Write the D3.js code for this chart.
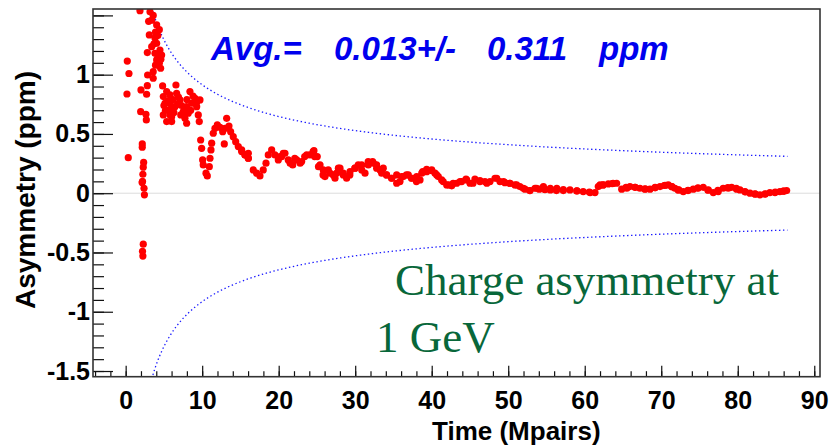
<!DOCTYPE html>
<html>
<head>
<meta charset="utf-8">
<script src="https://cdn.jsdelivr.net/npm/d3@7"></script>
<style>
  body { margin: 0; background: #fff; }
  svg { display: block; }
</style>
</head>
<body>
<div id="chart"></div>
<script>
/**
 * DATA
 * */
// running asymmetry vs accumulated statistics
const timeMpairs = [
  0.21, 0.43, 0.17, 0.34, 1.87,
  2.0, 2.83, 2.74, 1.96, 2.65, 2.7, 2.17, 2.17, 2.35, 2.3, 2.25, 2.2, 2.15, 2.4, 2.45, 2.3, 2.2, 2.25,
  3.18, 3.6, 3.4, 4.05, 4.4, 3.09, 3.83, 4.05, 3.4, 4.48, 2.83, 3.83, 4.7, 4.05, 4.4, 4.57, 3.6, 3.6, 2.87,
  3.0, 3.9, 4.2, 3.7, 4.3, 3.9, 4.6,
  4.83, 6.57, 5.36, 4.92, 5.79, 6.66, 7.1, 5.14, 5.79, 6.44, 5.57, 4.92, 6.01, 5.36, 6.01,
  9.06, 9.71, 8.63, 7.97, 9.28, 7.53, 8.18, 7.75, 7.97, 9.49, 9.62, 8.4,
  5.5, 6.2, 6.9, 5.2, 6.3, 5.8, 7.3, 8.0, 8.8, 9.3, 8.5, 7.7, 6.8, 6.0, 5.0, 7.2,
  9.8, 9.93, 10.06, 10.14, 10.5, 10.67, 10.93, 11.02, 11.15, 11.24, 11.45, 11.67, 11.98, 12.33, 12.68,
  12.98, 13.2, 13.5, 13.72, 12.89, 14.06, 14.38, 14.72, 15.16, 15.6, 16.03,
  15.16, 15.6, 16.03, 16.03, 16.68, 17.12, 17.55, 17.98, 18.34, 18.64, 19.08, 19.51, 19.95, 20.39,
  20.82, 21.25, 21.83, 22.35, 23.0, 23.66, 24.09, 24.61, 25.04, 25.4, 25.83, 26.05, 26.48, 27.13,
  27.58, 28.01, 28.44, 28.88, 29.32, 29.97, 30.4, 30.85, 31.28, 31.71, 32.28, 32.8, 33.24, 33.67,
  34.1, 34.77, 35.42, 35.85, 36.28, 36.94, 37.38, 38.03, 38.47, 38.82, 39.34, 40.0, 40.65, 41.3,
  41.96, 42.61, 43.26, 43.92, 44.48, 45.0, 45.65, 46.31, 46.96, 47.62, 48.27, 48.92, 49.57, 50.23,
  50.88, 51.53, 52.19, 52.84, 53.5, 54.06, 54.8, 55.5, 56.3, 57.2, 58.07, 59.0, 59.8, 60.6, 61.34,
  61.77, 62.4, 63.08, 63.6, 64.17, 64.83, 65.4, 65.91, 66.6, 67.22, 67.9, 68.53, 69.2, 69.84,
  70.4, 70.92, 71.4, 71.79, 72.3, 72.88, 73.5, 74.19, 74.8, 75.49, 76.1, 76.8, 77.4, 78.1, 78.7,
  79.2, 79.8, 80.29, 81.0, 81.6, 82.3, 82.9, 83.6, 84.2, 84.9, 85.5, 86.0, 86.39,
  // second pass along the band
  20.2, 20.6, 21.5, 22.1, 22.8, 23.4, 24.5, 24.7, 25.2, 25.8, 26.7, 27.36, 27.8, 28.44, 29.3, 29.97,
  30.85, 31.7, 32.36, 32.8, 33.46, 34.1, 34.77, 35.42, 36.07, 36.7, 37.38, 38.0, 38.7, 39.34, 40.0,
  40.43, 40.86, 41.5, 42.2, 42.8, 43.7, 44.57, 45.4, 46.3, 47.2, 48.5, 49.4, 50.2, 51.1, 51.97,
  52.84, 53.7, 54.6, 55.5, 56.35,
  56.3, 57.2, 58.95, 60.7, 62.0, 62.4, 63.7, 65.5, 66.57, 67.87, 69.2, 70.5, 71.36, 72.2, 73.5,
  74.8, 76.15, 77.45, 78.76, 79.86, 80.94, 82.25, 83.56, 84.87, 85.95
];
const asymPpm = [
  1.115, 1.01, 0.837, 0.30, 1.54,
  0.871, 0.907, 0.835, 0.688, 0.666, 0.618, 0.416, 0.388, 0.26, 0.22, 0.16, 0.10, 0.09, 0.042, -0.014, -0.43, -0.49, -0.53,
  1.53, 1.50, 1.46, 1.42, 1.38, 1.335, 1.31, 1.265, 1.236, 1.208, 1.186, 1.18, 1.166, 1.124, 1.096, 1.054, 1.025, 0.97, 0.997,
  1.45, 1.36, 1.33, 1.26, 1.16, 1.08, 1.13,
  0.905, 0.913, 0.857, 0.815, 0.829, 0.843, 0.787, 0.759, 0.759, 0.73, 0.702, 0.66, 0.646, 0.604, 0.604,
  0.80, 0.787, 0.759, 0.73, 0.73, 0.688, 0.675, 0.632, 0.59, 0.66, 0.604, 0.857,
  0.78, 0.79, 0.81, 0.70, 0.68, 0.66, 0.74, 0.79, 0.82, 0.77, 0.70, 0.71, 0.75, 0.72, 0.74, 0.66,
  0.449, 0.379, 0.281, 0.239, 0.169, 0.146, 0.224, 0.295, 0.365, 0.422, 0.506, 0.548, 0.576, 0.556, 0.519,
  0.548, 0.632, 0.567, 0.519, 0.416, 0.477, 0.435, 0.393, 0.351, 0.323, 0.295,
  0.365, 0.323, 0.337, 0.295, 0.196, 0.169, 0.146, 0.196, 0.253, 0.323, 0.365, 0.323, 0.281, 0.309,
  0.337, 0.281, 0.239, 0.281, 0.267, 0.323, 0.323, 0.359, 0.309, 0.239, 0.196, 0.14, 0.196, 0.154,
  0.169, 0.211, 0.154, 0.126, 0.182, 0.211, 0.239, 0.196, 0.169, 0.239, 0.267, 0.239, 0.196, 0.211,
  0.154, 0.126, 0.154, 0.098, 0.14, 0.154, 0.126, 0.14, 0.112, 0.182, 0.202, 0.191, 0.154, 0.112,
  0.07, 0.062, 0.084, 0.098, 0.118, 0.084, 0.118, 0.106, 0.098, 0.098, 0.126, 0.098, 0.089, 0.084,
  0.07, 0.056, 0.034, 0.022, 0.042, 0.034, 0.03, 0.028, 0.03, 0.03, 0.028, 0.02, 0.014, 0.01, 0.005,
  0.056, 0.07, 0.078, 0.08, 0.084, 0.034, 0.05, 0.056, 0.05, 0.042, 0.036, 0.034, 0.045, 0.056,
  0.065, 0.07, 0.055, 0.042, 0.028, 0.014, 0.025, 0.034, 0.045, 0.05, 0.025, 0.005, 0.025, 0.042, 0.048,
  0.05, 0.04, 0.028, 0.01, 0.0, -0.008, -0.014, -0.005, 0.005, 0.01, 0.014, 0.018, 0.022,
  // second pass along the band
  0.309, 0.337, 0.253, 0.295, 0.253, 0.309, 0.351, 0.309, 0.224, 0.154, 0.169, 0.126, 0.211, 0.169, 0.154, 0.211,
  0.239, 0.267, 0.253, 0.211, 0.169, 0.154, 0.126, 0.084, 0.14, 0.154, 0.126, 0.098, 0.169, 0.182, 0.196,
  0.169, 0.14, 0.098, 0.07, 0.084, 0.098, 0.112, 0.084, 0.098, 0.084, 0.126, 0.098, 0.084, 0.07, 0.042,
  0.022, 0.042, 0.056, 0.042, 0.042,
  0.022, 0.022, 0.019, 0.005, 0.07, 0.07, 0.084, 0.042, 0.05, 0.034, 0.05, 0.067, 0.056, 0.028, 0.022,
  0.042, 0.028, 0.014, 0.042, 0.034, 0.014, -0.006, -0.008, 0.005, 0.017
];

const avgValue = 0.013, avgError = 0.311, lastTime = 86.5;

const xTickValues = [0, 10, 20, 30, 40, 50, 60, 70, 80, 90];
const yTickValues = [-1.5, -1, -0.5, 0, 0.5, 1, 1.5];
const yTickLabels = ["-1.5", "-1", "-0.5", "0", "0.5", "1", ""];

/**
 * CONSTANTS
 * */
const width = 831, height = 447;
const frame = { left: 93, top: 9, right: 820, bottom: 376.7 };
const axisFont = "'Liberation Sans', Arial, Helvetica, sans-serif";

const svg = d3.select("#chart").append("svg")
  .attr("width", width)
  .attr("height", height);

const x = d3.scaleLinear().domain([-4.27, 90.75]).range([frame.left, frame.right]);
const y = d3.scaleLinear().domain([-1.548, 1.554]).range([frame.bottom, frame.top]);

// zero line
svg.append("line")
  .attr("x1", frame.left).attr("x2", frame.right)
  .attr("y1", y(0)).attr("y2", y(0))
  .attr("stroke", "#dcdcdc").attr("stroke-width", 1);

// clip for curves / dots
svg.append("clipPath").attr("id", "plot-clip")
  .append("rect")
  .attr("x", frame.left).attr("y", frame.top)
  .attr("width", frame.right - frame.left)
  .attr("height", frame.bottom - frame.top);

// error envelope (avg error scaled with 1/sqrt(N))
const envX = d3.range(2.5, lastTime + 0.001, 0.25);
const envelope = s => d3.line()
  .x(d => x(d))
  .y(d => y(s * avgError * Math.sqrt(lastTime / d)));

[1, -1].forEach(s => {
  svg.append("path")
    .datum(envX)
    .attr("clip-path", "url(#plot-clip)")
    .attr("d", envelope(s))
    .attr("fill", "none")
    .attr("stroke", "#1a1aff")
    .attr("stroke-width", 1.3)
    .attr("stroke-dasharray", "1.4 2.6");
});

// data points
const points = timeMpairs.map((t, i) => ({ t, a: asymPpm[i] }));
svg.append("g")
  .attr("clip-path", "url(#plot-clip)")
  .selectAll("circle")
  .data(points)
  .join("circle")
  .attr("cx", d => x(d.t))
  .attr("cy", d => y(d.a))
  .attr("r", 3.6)
  .attr("fill", "#ff0000");

// axes
const xMajor = d3.axisBottom(x).tickValues(xTickValues).tickSize(-11).tickSizeOuter(0).tickPadding(15);
const xMinor = d3.axisBottom(x).tickValues(d3.range(-4, 91, 2)).tickSize(-5.5).tickSizeOuter(0).tickFormat("");
const yMajor = d3.axisLeft(y).tickValues(yTickValues).tickSize(-20).tickSizeOuter(0).tickPadding(3)
  .tickFormat((d, i) => yTickLabels[i]);
const yMinor = d3.axisLeft(y).tickValues(d3.range(-15, 16).map(v => v / 10)).tickSize(-11).tickSizeOuter(0).tickFormat("");

[xMinor, xMajor].forEach(ax => {
  svg.append("g").attr("transform", `translate(0,${frame.bottom})`).call(ax);
});
[yMinor, yMajor].forEach(ax => {
  svg.append("g").attr("transform", `translate(${frame.left},0)`).call(ax);
});

svg.selectAll(".domain").remove();
svg.selectAll(".tick line").attr("stroke", "#111").attr("stroke-width", 1.2);
svg.selectAll(".tick text")
  .attr("font-family", axisFont)
  .attr("font-weight", "bold")
  .attr("font-size", 25)
  .attr("fill", "#000");

// frame
svg.append("rect")
  .attr("x", frame.left).attr("y", frame.top)
  .attr("width", frame.right - frame.left)
  .attr("height", frame.bottom - frame.top)
  .attr("fill", "none")
  .attr("stroke", "#333")
  .attr("stroke-width", 1.6);

// axis titles
svg.append("text")
  .attr("x", 432).attr("y", 440)
  .attr("font-family", axisFont).attr("font-weight", "bold").attr("font-size", 26)
  .text("Time (Mpairs)");

svg.append("text")
  .attr("transform", "translate(35,190) rotate(-90)")
  .attr("text-anchor", "middle")
  .attr("font-family", axisFont).attr("font-weight", "bold").attr("font-size", 28)
  .text("Asymmetry (ppm)");

// average label, pieces placed like the reference
const avgLabel = svg.append("text")
  .attr("y", 60)
  .attr("font-family", axisFont).attr("font-weight", "bold").attr("font-style", "italic")
  .attr("font-size", 33).attr("fill", "#0000ee");
avgLabel.append("tspan").attr("x", 211).text("Avg.=");
avgLabel.append("tspan").attr("x", 334).text(`${avgValue.toFixed(3)}+/-`);
avgLabel.append("tspan").attr("x", 487).text(avgError.toFixed(3));
avgLabel.append("tspan").attr("x", 599).text("ppm");

// annotation
const note = svg.append("text")
  .attr("font-family", "'Liberation Serif', 'Times New Roman', serif")
  .attr("font-size", 45).attr("fill", "#08673a");
note.append("tspan").attr("x", 395).attr("y", 295).text("Charge asymmetry at");
note.append("tspan").attr("x", 376).attr("y", 352).text("1 GeV");
</script>
</body>
</html>
